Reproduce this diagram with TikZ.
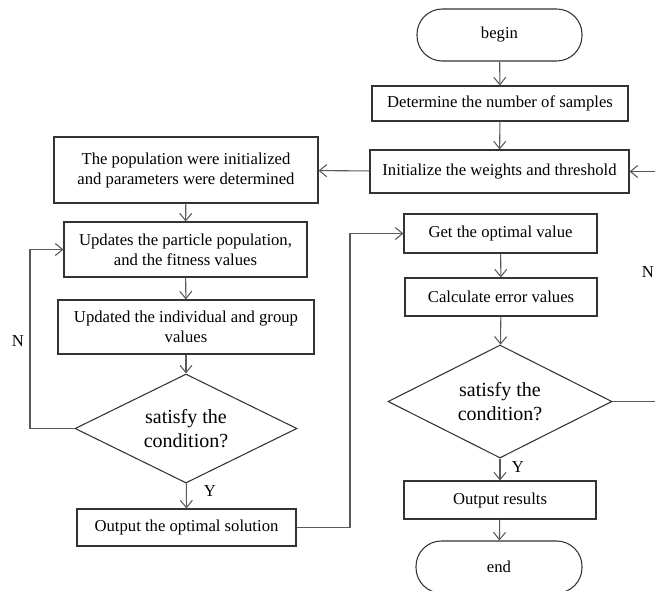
\documentclass[tikz,border=0pt]{standalone}
\usepackage{fontspec}
\setmainfont{Liberation Serif}
\usetikzlibrary{arrows.meta,shapes.geometric}
\begin{document}
\begin{tikzpicture}[x=0.75pt,y=-0.75pt,
  line width=0.8pt,
  every node/.style={text=black},
  box/.style={draw=black!80, rectangle, inner sep=0pt, align=center, font=\rmfamily\fontsize{12.5}{15}\selectfont},
  term/.style={draw=black!80, rectangle, rounded corners=19pt, inner sep=0pt, font=\rmfamily\fontsize{12.5}{15}\selectfont},
  cond/.style={draw=black!80, diamond, aspect=2, inner sep=0pt, align=center, font=\rmfamily\fontsize{15}{18}\selectfont},
  lbl/.style={font=\rmfamily\fontsize{12.5}{15}\selectfont, inner sep=0pt},
  arr/.style={draw=black!65, -{Straight Barb[length=5.5pt,width=9pt,line width=0.8pt]}},
  ln/.style={draw=black!65}
]
\useasboundingbox (0,0) rectangle (655,590);
\clip (0,0) rectangle (655,590);

% right column
\node[term, minimum width=165*0.75pt, minimum height=52*0.75pt] (begin) at (499.5,35) {begin};
\node[box, minimum width=256*0.75pt, minimum height=35*0.75pt] (samples) at (500,103.5) {Determine the number of samples};
\node[box, minimum width=259*0.75pt, minimum height=43*0.75pt] (init) at (499.5,171.5) {Initialize the weights and threshold};
\node[box, minimum width=193*0.75pt, minimum height=39*0.75pt] (getopt) at (500.5,233.5) {Get the optimal value};
\node[box, minimum width=192*0.75pt, minimum height=38*0.75pt] (calc) at (501,297) {Calculate error values};
\node[cond, minimum width=224*0.75pt, minimum height=113*0.75pt] (cond2) at (500,401.5) {satisfy the\\condition?};
\node[box, minimum width=192*0.75pt, minimum height=38*0.75pt] (outres) at (500,500) {Output results};
\node[term, minimum width=166*0.75pt, minimum height=52*0.75pt] (end) at (499,567) {end};

% left column
\node[box, minimum width=264*0.75pt, minimum height=66*0.75pt] (popinit) at (186,170) {The population were initialized\\and parameters were determined};
\node[box, minimum width=243*0.75pt, minimum height=55*0.75pt] (update) at (185.5,249.5) {Updates the particle population,\\and the fitness values};
\node[box, minimum width=256*0.75pt, minimum height=54*0.75pt] (indiv) at (186,327) {Updated the individual and group\\values};
\node[cond, minimum width=222*0.75pt, minimum height=109*0.75pt] (cond1) at (186,428.5) {satisfy the\\condition?};
\node[box, minimum width=219*0.75pt, minimum height=37*0.75pt] (outsol) at (186.5,527.5) {Output the optimal solution};

% free ends at the picture edge
\coordinate (rin) at (655,171.5);
\coordinate (rout) at (655,401.5);
\coordinate (lloop) at (30,0);
\coordinate (midx) at (350,0);

% labels
\node[lbl] (nleft) at (18,341) {N};
\node[lbl] (nright) at (648,272) {N};
\node[lbl] (yleft) at (210,491) {Y};
\node[lbl] (yright) at (518,467) {Y};

% connectors right column
\draw[arr] (begin) -- (samples);
\draw[arr] (samples) -- (init);
\draw[arr] (rin) -- (init);
\draw[arr] (getopt) -- (calc);
\draw[arr] (calc) -- (cond2);
\draw[arr] (cond2) -- (outres);
\draw[arr] (outres) -- (end);
\draw[ln] (cond2.east) -- (rout);

% connectors left column
\draw[arr] (init) -- (popinit);
\draw[arr] (popinit) -- (update);
\draw[arr] (update) -- (indiv);
\draw[arr] (indiv) -- (cond1);
\draw[arr] (cond1) -- (outsol);
\draw[arr] (cond1.west) -- (lloop |- cond1.west) -- (lloop |- update.west) -- (update.west);
\draw[arr] (outsol.east) -- (midx |- outsol.east) -- (midx |- getopt.west) -- (getopt.west);
\end{tikzpicture}
\end{document}
